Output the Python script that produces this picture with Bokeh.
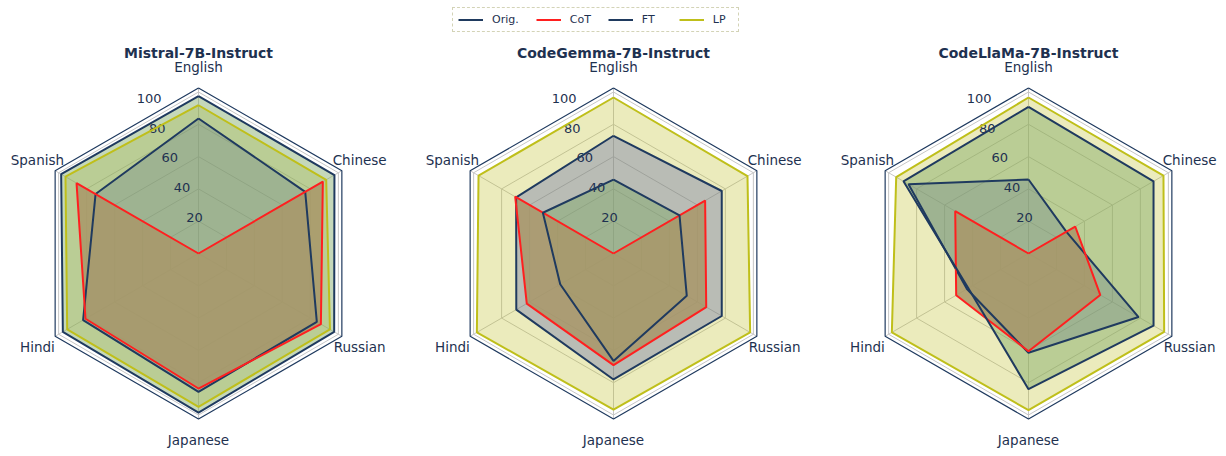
import numpy as np
from bokeh.plotting import figure
from bokeh.models import Range1d, Legend, LegendItem
from bokeh.embed import file_html
from bokeh.resources import INLINE
from bokeh.core.properties import value

# ---------------- data ----------------
categories = ["English", "Chinese", "Russian", "Japanese", "Hindi", "Spanish"]
models = ["Mistral-7B-Instruct", "CodeGemma-7B-Instruct", "CodeLlaMa-7B-Instruct"]
series_names = ["Orig.", "CoT", "FT", "LP"]
r_ticks = [20, 40, 60, 80, 100]
r_tick_labels = ["20", "40", "60", "80", "100"]

orig_vals = [
    [83.6, 76.3, 84.6, 85.7, 82.5, 73.6],
    [72.9, 77.4, 77.4, 78.0, 69.5, 69.6],
    [45.8, 27.0, 78.7, 61.5, 44.0, 85.8],
]
cot_vals = [
    [0.0, 88.9, 87.5, 83.6, 80.8, 87.2],
    [0.0, 65.5, 66.3, 69.1, 62.0, 70.3],
    [0.0, 33.4, 51.3, 60.5, 51.7, 52.4],
]
ft_vals = [
    [97.5, 97.2, 97.0, 98.5, 97.0, 98.2],
    [45.8, 47.2, 52.4, 66.5, 38.1, 50.5],
    [90.8, 89.4, 89.4, 84.0, 43.0, 89.4],
]
lp_vals = [
    [91.8, 91.3, 94.0, 95.0, 93.9, 95.1],
    [96.6, 95.8, 97.7, 96.6, 97.7, 96.5],
    [96.6, 96.5, 97.0, 97.0, 97.7, 94.6],
]

# ---------------- style / geometry ----------------
W, H = 1226, 456
K = 1.615                 # px per unit
CX = [198, 613, 1028]
CY = H - 253
R_FRAME = 102.5
R_LABEL = 115.2
NAVY = "#1f3a5f"
TXT = "#1e3150"
RED = "#ff1f1f"
YEL = "#bfbf1a"
GRID = "#c6c6c6"
FONT = value("DejaVu Sans")

angles = np.deg2rad(90 - 60 * np.arange(len(categories)))


def poly(cx, vals):
    v = np.asarray(vals, dtype=float)
    xs = cx + K * v * np.cos(angles)
    ys = CY + K * v * np.sin(angles)
    return list(xs), list(ys)


def closed(xs, ys):
    return xs + xs[:1], ys + ys[:1]


p = figure(width=W, height=H, x_range=Range1d(0, W), y_range=Range1d(0, H),
           x_axis_location=None, y_axis_location=None, toolbar_location=None,
           output_backend="svg", min_border=0)
p.outline_line_color = None
p.grid.visible = False
p.background_fill_color = "white"

legend_refs = {}

for i, model in enumerate(models):
    cx = CX[i]
    # grid rings
    gx, gy = [], []
    for t in r_ticks:
        xs, ys = closed(*poly(cx, [t] * 6))
        gx.append(xs)
        gy.append(ys)
    # spokes
    for a in angles:
        gx.append([cx, cx + K * R_FRAME * np.cos(a)])
        gy.append([CY, CY + K * R_FRAME * np.sin(a)])
    p.multi_line(gx, gy, line_color=GRID, line_width=1)
    # frame
    fx, fy = closed(*poly(cx, [R_FRAME] * 6))
    p.line(fx, fy, line_color=NAVY, line_width=1.2)

    # fills
    lx, ly = poly(cx, lp_vals[i])
    ox, oy = poly(cx, orig_vals[i])
    tx, ty = poly(cx, ft_vals[i])
    cxs, cys = poly(cx, cot_vals[i])
    p.patch(lx, ly, fill_color="#bcbd22", fill_alpha=0.3, line_alpha=0)
    p.patch(ox, oy, fill_color="#5c65a9", fill_alpha=0.35, line_alpha=0)
    p.patch(tx, ty, fill_color="#7ea866", fill_alpha=0.45, line_alpha=0)
    p.patch(cxs, cys, fill_color="#a89668", fill_alpha=0.85, line_alpha=0)

    # radial tick labels
    ang = np.deg2rad(22.5)
    tlx = [cx - K * t * np.sin(ang) for t in r_ticks]
    tly = [CY + K * t * np.cos(ang) + 6 for t in r_ticks]
    p.text(tlx, tly, text=r_tick_labels, text_align="left", text_baseline="middle",
           text_font=FONT, text_font_size="13px", text_color=TXT)

    # series lines
    r_o = p.line(*closed(ox, oy), line_color=NAVY, line_width=2)
    r_c = p.line(*closed(cxs, cys), line_color=RED, line_width=2)
    r_f = p.line(*closed(tx, ty), line_color=NAVY, line_width=2)
    r_l = p.line(*closed(lx, ly), line_color=YEL, line_width=2)
    if i == 0:
        legend_refs = {"Orig.": r_o, "CoT": r_c, "FT": r_f, "LP": r_l}

    # category labels
    clx = [cx + K * R_LABEL * np.cos(a) for a in angles]
    cly = [CY + K * R_LABEL * np.sin(a) for a in angles]
    p.text(clx, cly, text=categories, text_align="center", text_baseline="middle",
           text_font=FONT, text_font_size="13.5px", text_color=TXT)

    # title
    p.text([cx], [H - 52], text=[model], text_align="center", text_baseline="middle",
           text_font=FONT, text_font_size="14px", text_font_style="bold", text_color=TXT)

legend = Legend(items=[LegendItem(label=n, renderers=[legend_refs[n]]) for n in series_names],
                orientation="horizontal", location=(452, H - 32))
legend.label_text_font = "DejaVu Sans"
legend.label_text_font_size = "11px"
legend.label_text_color = TXT
legend.glyph_width = 25
legend.glyph_height = 13
legend.label_height = 13
legend.label_standoff = 9
legend.spacing = 17
legend.padding = 5
legend.margin = 0
legend.border_line_color = "#a8a870"
legend.border_line_dash = "dotted"
legend.border_line_width = 1
legend.background_fill_color = "white"
legend.background_fill_alpha = 1
p.add_layout(legend)

open("out.html", "w").write(file_html(p, INLINE))
